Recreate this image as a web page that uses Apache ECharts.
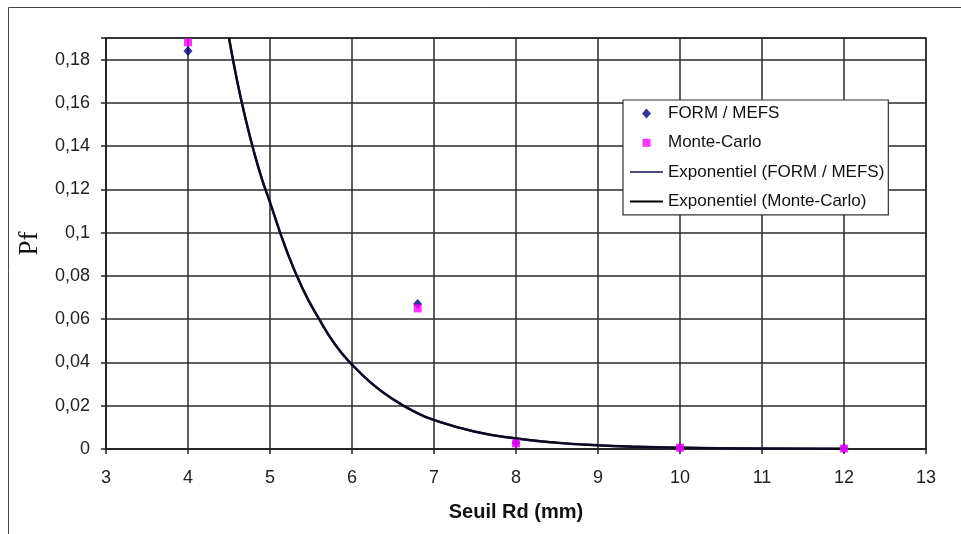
<!DOCTYPE html>
<html>
<head>
<meta charset="utf-8">
<script src="https://cdn.jsdelivr.net/npm/echarts@6/dist/echarts.min.js"></script>
<style>
html,body{margin:0;padding:0;background:#fff;}
#chart{width:961px;height:534px;}
</style>
</head>
<body>
<div id="chart"></div>
<script>
// Data
var formX = [4, 6.8, 8, 10, 12];
var formY = [0.184, 0.067, 0.0028, 0.0006, 0.0002];
var mcX = [4, 6.8, 8, 10, 12];
var mcY = [0.188, 0.065, 0.0026, 0.0006, 0.0002];
var trendX = [4.5, 4.6, 4.7, 4.8, 4.9, 5.0, 5.2, 5.4, 5.6, 5.8, 6.0, 6.25, 6.5, 6.75, 7.0, 7.5, 8.0, 8.5, 9.0, 9.5, 10, 11, 12];
var trendFormY = [0.190, 0.170, 0.153, 0.138, 0.125, 0.114, 0.092, 0.074, 0.060, 0.048, 0.039, 0.030, 0.023, 0.0175, 0.0134, 0.0080, 0.0049, 0.0029, 0.0017, 0.0010, 0.0006, 0.0002, 0.0001];
var trendMcY = [0.190, 0.170, 0.153, 0.138, 0.125, 0.114, 0.092, 0.074, 0.060, 0.048, 0.039, 0.030, 0.023, 0.0175, 0.0134, 0.0080, 0.0049, 0.0029, 0.0017, 0.0010, 0.0006, 0.0002, 0.0001];
var seriesNames = ['FORM / MEFS', 'Monte-Carlo', 'Exponentiel (FORM / MEFS)', 'Exponentiel (Monte-Carlo)'];
var xTitle = 'Seuil Rd (mm)';
var yTitle = 'Pf';

function pairs(xs, ys) { return xs.map(function (x, i) { return [x, ys[i]]; }); }

var chart = echarts.init(document.getElementById('chart'), null, {renderer: 'canvas'});
var font = '"Liberation Sans", Arial, sans-serif';
var lineIcon = 'path://M0,0M33,16M0,7L33,7L33,9L0,9Z';
chart.setOption({
  animation: false,
  backgroundColor: '#ffffff',
  graphic: [{
    type: 'rect', silent: true, z: -10,
    shape: {x: 8.5, y: 7.5, width: 980, height: 560},
    style: {fill: 'none', stroke: '#444', lineWidth: 1}
  }],
  grid: {left: 106, right: 35, top: 38, bottom: 85, show: true, backgroundColor: '#fff', borderColor: '#222', borderWidth: 1.5},
  legend: {
    orient: 'vertical', left: 623, top: 100,
    padding: [5, 4, 5, 7],
    itemWidth: 33, itemHeight: 16, itemGap: 12.3,
    backgroundColor: '#fff', borderColor: '#333', borderWidth: 1.2, borderRadius: 0,
    textStyle: {fontFamily: font, fontSize: 17, color: '#111'},
    data: [
      {name: seriesNames[0], icon: 'path://M0,0M33,16M16.5,3L21,8L16.5,13L12,8Z', itemStyle: {color: '#000080', borderWidth: 0}},
      {name: seriesNames[1], icon: 'path://M0,0M33,16M12.5,4L20.5,4L20.5,12L12.5,12Z', itemStyle: {color: '#ff00ff', borderWidth: 0}},
      {name: seriesNames[2], icon: lineIcon, itemStyle: {color: '#4c4c80', borderWidth: 0}},
      {name: seriesNames[3], icon: lineIcon, itemStyle: {color: '#000000', borderWidth: 0}}
    ]
  },
  xAxis: {
    type: 'value', min: 3, max: 13, interval: 1,
    name: xTitle, nameLocation: 'middle', nameGap: 53,
    nameTextStyle: {fontFamily: font, fontSize: 20, fontWeight: 'bold', color: '#111'},
    axisLine: {show: true, lineStyle: {color: '#222', width: 1.5}},
    axisTick: {show: true, length: 5, lineStyle: {color: '#222', width: 1.5}},
    axisLabel: {fontFamily: font, fontSize: 18, color: '#222', margin: 20},
    splitLine: {show: true, lineStyle: {color: '#2a2a2a', width: 1.5}}
  },
  yAxis: {
    type: 'value', min: 0, max: 0.19, interval: 0.02,
    name: yTitle, nameLocation: 'middle', nameGap: 63, nameRotate: 90,
    nameTextStyle: {fontFamily: '"Liberation Serif", "Times New Roman", serif', fontSize: 27, color: '#111'},
    axisLine: {show: true, lineStyle: {color: '#222', width: 1.5}},
    axisTick: {show: true, length: 5, lineStyle: {color: '#222', width: 1.5}},
    axisLabel: {
      fontFamily: font, fontSize: 18, color: '#222', margin: 16,
      formatter: function (v) {
        var k = Math.round(v / 0.02);
        if (Math.abs(v - k * 0.02) > 1e-9) return '';
        if (k === 0) return '0';
        return String(Math.round(v * 100) / 100).replace('.', ',');
      }
    },
    splitLine: {show: true, lineStyle: {color: '#2a2a2a', width: 1.5}}
  },
  series: [
    {
      name: seriesNames[2], type: 'line', data: pairs(trendX, trendFormY),
      showSymbol: false, symbol: 'none', smooth: 0.5, clip: true, z: 3,
      lineStyle: {color: '#2a2a5a', width: 2.5}, itemStyle: {color: '#4c4c80'}
    },
    {
      name: seriesNames[3], type: 'line', data: pairs(trendX, trendMcY),
      showSymbol: false, symbol: 'none', smooth: 0.5, clip: true, z: 4,
      lineStyle: {color: '#0a0a1e', width: 2.2}, itemStyle: {color: '#000'}
    },
    {
      name: seriesNames[0], type: 'scatter', data: pairs(formX, formY),
      symbol: 'diamond', symbolSize: [9, 10], z: 5,
      itemStyle: {color: '#000080'}
    },
    {
      name: seriesNames[1], type: 'scatter', data: pairs(mcX, mcY),
      symbol: 'rect', symbolSize: 8, z: 6,
      itemStyle: {color: '#ff00ff'}
    }
  ]
});
</script>
</body>
</html>
